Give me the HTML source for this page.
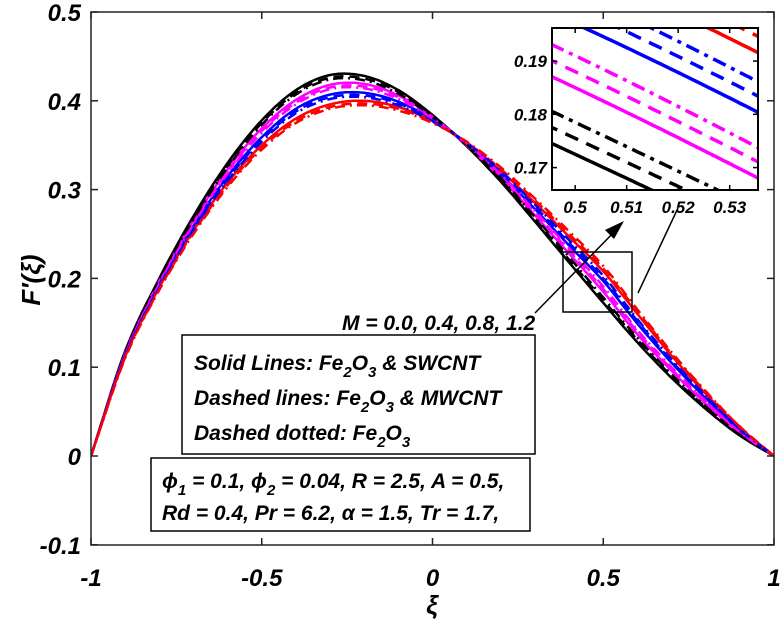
<!DOCTYPE html>
<html><head><meta charset="utf-8"><style>
body{margin:0;background:#fff;}
svg text{font-family:"Liberation Sans",Arial,sans-serif;font-weight:bold;font-style:italic;}
</style></head><body>
<svg id="chart" width="781" height="624" viewBox="0 0 781 624" xmlns="http://www.w3.org/2000/svg">
<defs>
<clipPath id="mainClip"><rect x="91" y="12" width="683" height="533"/></clipPath>
<clipPath id="insetClip"><rect x="552" y="28" width="206" height="162"/></clipPath>
</defs>
<g id="main-lines" clip-path="url(#mainClip)"></g>
<rect x="91" y="12" width="683" height="533" fill="none" stroke="#222" stroke-width="1.5"/>
<g id="axes"></g>
<text transform="translate(40,280) rotate(-90)" font-size="26" text-anchor="middle">F′(ξ)</text>
<text x="432" y="614" font-size="26" text-anchor="middle">ξ</text>
<text x="342" y="330" font-size="21">M = 0.0, 0.4, 0.8, 1.2</text>
<line x1="535" y1="313" x2="618" y2="228" stroke="#000" stroke-width="1.5"/>
<polygon points="624,221 605,230 614,239" fill="#000"/>
<rect x="563" y="252" width="69" height="60" fill="none" stroke="#000" stroke-width="1.5"/>
<line x1="638" y1="293" x2="678" y2="208" stroke="#000" stroke-width="1.5"/>
<g>
<rect x="182" y="335" width="353" height="119" fill="#fff" stroke="#000" stroke-width="1.5"/>
<text x="194" y="370" font-size="21">Solid Lines: Fe<tspan font-size="15" dy="7">2</tspan><tspan dy="-7">O</tspan><tspan font-size="15" dy="7">3</tspan><tspan dy="-7"> &amp; SWCNT</tspan></text>
<text x="194" y="405" font-size="21">Dashed lines: Fe<tspan font-size="15" dy="7">2</tspan><tspan dy="-7">O</tspan><tspan font-size="15" dy="7">3</tspan><tspan dy="-7"> &amp;  MWCNT</tspan></text>
<text x="194" y="440" font-size="21">Dashed dotted: Fe<tspan font-size="15" dy="7">2</tspan><tspan dy="-7">O</tspan><tspan font-size="15" dy="7">3</tspan></text>
</g>
<g>
<rect x="151" y="458" width="379" height="73" fill="#fff" stroke="#000" stroke-width="1.5"/>
<text x="162" y="488" font-size="21">ϕ<tspan font-size="15" dy="7">1</tspan><tspan dy="-7"> = 0.1, ϕ</tspan><tspan font-size="15" dy="7">2</tspan><tspan dy="-7"> = 0.04, R = 2.5, A = 0.5,</tspan></text>
<text x="162" y="520" font-size="21">Rd = 0.4, Pr = 6.2, α = 1.5, Tr = 1.7,</text>
</g>
<rect x="552" y="28" width="206" height="162" fill="#fff"/>
<g id="inset-lines" clip-path="url(#insetClip)"></g>
<rect x="552" y="28" width="206" height="162" fill="none" stroke="#000" stroke-width="2"/>
<g id="inset-axes"></g>
</svg>
<script>
const xiValues = [-1,-0.9,-0.8,-0.7,-0.6,-0.5,-0.4,-0.3,-0.2,-0.1,0,0.1,0.2,0.3,0.4,0.5,0.6,0.7,0.8,0.9,1];
const blackSolid   = [0,0.118,0.200,0.270,0.330,0.378,0.412,0.429,0.428,0.412,0.384,0.349,0.309,0.264,0.218,0.1725,0.128,0.088,0.053,0.023,0];
const magentaSolid = [0,0.116,0.197,0.265,0.323,0.369,0.401,0.418,0.419,0.406,0.382,0.350,0.313,0.271,0.228,0.185,0.137,0.096,0.059,0.026,0];
const blueSolid    = [0,0.114,0.193,0.259,0.315,0.359,0.391,0.407,0.409,0.399,0.379,0.351,0.317,0.278,0.237,0.197,0.149,0.105,0.065,0.029,0];
const redSolid     = [0,0.112,0.190,0.254,0.308,0.350,0.380,0.396,0.400,0.393,0.377,0.352,0.321,0.285,0.247,0.208,0.160,0.113,0.070,0.032,0];
const dashedDelta  = [0,-0.001,-0.002,-0.002,-0.003,-0.003,-0.003,-0.003,-0.003,-0.002,-0.001,0.001,0.002,0.003,0.003,0.003,0.003,0.002,0.002,0.001,0];
const dashdotDelta = [0,-0.002,-0.003,-0.004,-0.005,-0.005,-0.005,-0.005,-0.005,-0.004,-0.002,0.002,0.004,0.005,0.006,0.006,0.005,0.004,0.003,0.001,0];
const mLabels = ['0.0','0.4','0.8','1.2'];
const mColors = ['#000000','#ff00ff','#0000ff','#ff0000'];
const xTicks = [-1,-0.5,0,0.5,1];
const yTicks = [-0.1,0,0.1,0.2,0.3,0.4,0.5];
const insetXTicks = [0.5,0.51,0.52,0.53];
const insetYTicks = [0.17,0.18,0.19];

const NS='http://www.w3.org/2000/svg';
const X=v=>91+(v+1)*341.5, Y=v=>12+(0.5-v)*888;
const IX=v=>552+(v-0.4955)/(0.5355-0.4955)*206, IY=v=>28+(0.1962-v)/(0.1962-0.1658)*162;
function mk(tag,attrs,parent){const e=document.createElementNS(NS,tag);for(const k in attrs)e.setAttribute(k,attrs[k]);parent.appendChild(e);return e;}
function interp(ys,x){
  const h=0.1;let i=Math.min(Math.floor((x+1)/h+1e-9),ys.length-2);if(i<0)i=0;
  const t=(x-xiValues[i])/h;const p1=ys[i],p2=ys[i+1];
  const p0=i>0?ys[i-1]:2*p1-p2, p3=i+2<ys.length?ys[i+2]:2*p2-p1;
  return 0.5*((2*p1)+(-p0+p2)*t+(2*p0-5*p1+4*p2-p3)*t*t+(-p0+3*p1-3*p2+p3)*t*t*t);
}
const solids=[blackSolid,magentaSolid,blueSolid,redSolid];
const styles=[{n:'solid',d:null,dash:''},{n:'dashed',d:dashedDelta,dash:'10,6'},{n:'dashdot',d:dashdotDelta,dash:'10,5,2,5'}];
const mainG=document.getElementById('main-lines'),insG=document.getElementById('inset-lines');
styles.forEach(st=>{
  solids.forEach((base,si)=>{
    const ys=base.map((v,i)=>st.d?v+st.d[i]:v);
    let p='',q='';
    for(let k=0;k<=400;k++){const x=-1+k*2/400;const v=interp(ys,x);p+=(k?'L':'M')+X(x).toFixed(1)+','+Y(v).toFixed(1);}
    for(let k=0;k<=80;k++){const x=0.49+k*0.05/80;const v=interp(ys,x);q+=(k?'L':'M')+IX(x).toFixed(1)+','+IY(v).toFixed(1);}
    const a=mk('path',{d:p,fill:'none',stroke:mColors[si],'stroke-width':2.5,'stroke-dasharray':st.dash},mainG);
    
    
    const b=mk('path',{d:q,fill:'none',stroke:mColors[si],'stroke-width':3.5,'stroke-dasharray':st.dash?(st.n=='dashed'?'14,9':'14,6,4,6'):''},insG);
    
    
  });
});
const ax=document.getElementById('axes');
xTicks.forEach(t=>{
  mk('line',{x1:X(t),x2:X(t),y1:545,y2:538,stroke:'#222','stroke-width':1.5},ax);
  mk('line',{x1:X(t),x2:X(t),y1:12,y2:19,stroke:'#222','stroke-width':1.5},ax);
  const e=mk('text',{x:X(t),y:586,'font-size':24,'text-anchor':'middle'},ax);e.textContent=String(t);
  
  
});
yTicks.forEach(t=>{
  mk('line',{x1:91,x2:98,y1:Y(t),y2:Y(t),stroke:'#222','stroke-width':1.5},ax);
  mk('line',{x1:774,x2:767,y1:Y(t),y2:Y(t),stroke:'#222','stroke-width':1.5},ax);
  const e=mk('text',{x:81,y:Y(t)+9,'font-size':24,'text-anchor':'end'},ax);e.textContent=String(t);
  
  
});
const ia=document.getElementById('inset-axes');
insetXTicks.forEach(t=>{
  mk('line',{x1:IX(t),x2:IX(t),y1:190,y2:185,stroke:'#000','stroke-width':1.5},ia);
  mk('line',{x1:IX(t),x2:IX(t),y1:28,y2:33,stroke:'#000','stroke-width':1.5},ia);
  const e=mk('text',{x:IX(t),y:213,'font-size':17,'text-anchor':'middle','font-style':'normal'},ia);e.textContent=String(t);
  
  
});
insetYTicks.forEach(t=>{
  mk('line',{x1:552,x2:557,y1:IY(t),y2:IY(t),stroke:'#000','stroke-width':1.5},ia);
  mk('line',{x1:758,x2:753,y1:IY(t),y2:IY(t),stroke:'#000','stroke-width':1.5},ia);
  const e=mk('text',{x:547,y:IY(t)+6,'font-size':17,'text-anchor':'end','font-style':'normal'},ia);e.textContent=String(t);
  
  
});
</script>
</body></html>
